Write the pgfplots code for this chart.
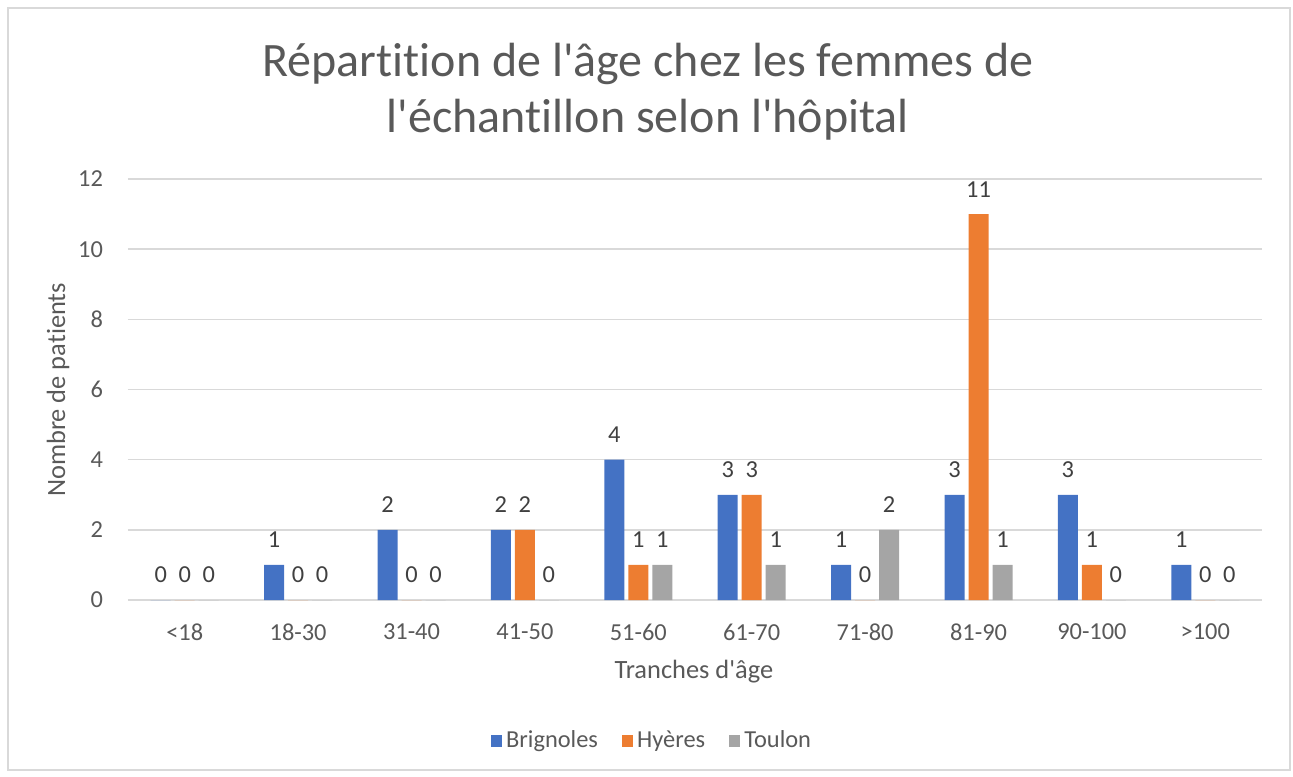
\documentclass[border=0pt]{standalone}
\usepackage{fontspec}
\setmainfont{Carlito}[Ligatures={NoCommon}]
\usepackage{pgfplots}
\pgfplotsset{compat=1.18}

\definecolor{cBrig}{HTML}{4472C4}
\definecolor{cHye}{HTML}{ED7D31}
\definecolor{cTou}{HTML}{A5A5A5}
\definecolor{txt}{HTML}{595959}
\definecolor{lbl}{HTML}{404040}
\definecolor{gridc}{HTML}{D9D9D9}

% tranche, Brignoles, Hyeres, Toulon
\pgfplotstableread{
x b h t
0 0 0 0
1 1 0 0
2 2 0 0
3 2 2 0
4 4 1 1
5 3 3 1
6 1 0 2
7 3 11 1
8 3 1 0
9 1 0 0
}\agedata

\newcommand{\q}{\textquotesingle}

\begin{document}
\begin{tikzpicture}
\useasboundingbox (-64pt,-88pt) rectangle (582.5pt,300pt);
\draw[gridc, line width=0.8pt] (-60pt,-85pt) rectangle (581pt,296pt);
\begin{axis}[
  at={(0,0)}, anchor=south west,
  scale only axis,
  width=567pt, height=210.5pt,
  ybar, bar width=10pt,
  xmin=-0.5, xmax=9.5, ymin=0, ymax=12,
  xtick=data,
  xticklabels={<18,18-30,31-40,41-50,51-60,61-70,71-80,81-90,90-100,>100},
  ytick={0,2,...,12},
  axis line style={draw=none},
  major tick length=0pt,
  ymajorgrids, major grid style={gridc, line width=0.8pt},
  tick label style={font=\fontsize{12.2}{14}\selectfont, text=txt},
  xticklabel style={yshift=-8.5pt},
  yticklabel style={xshift=-9pt},
  /pgf/number format/assume math mode=true,
  xlabel={Tranches d\q âge}, ylabel={Nombre de patients},
  every axis x label/.style={at={(axis description cs:0.499,-0.17)}, anchor=center,
    font=\fontsize{13.2}{16}\selectfont, text=txt},
  every axis y label/.style={at={(axis description cs:-0.0617,0.499)}, rotate=90, anchor=center,
    font=\fontsize{13.2}{16}\selectfont, text=txt},
  title={Répartition de l\q âge chez les femmes de\\l\q échantillon selon l\q hôpital},
  title style={at={(axis description cs:0.4586,1.178)}, anchor=center, align=center,
    font=\fontsize{24}{28}\selectfont, text=txt},
  nodes near coords,
  every node near coord/.append style={font=\fontsize{12.2}{14}\selectfont, text=lbl, yshift=5pt},
  legend columns=3,
  legend style={at={(0.463,-0.335)}, anchor=center, draw=none,
    font=\fontsize{12.2}{14}\selectfont, text=txt,
    nodes={text height=1.7ex, text depth=0.4ex},
    /tikz/every even column/.append style={column sep=10pt}},
  legend image code/.code={\fill[#1] (0pt,-2.8pt) rectangle (5.6pt,2.8pt);},
]
\addplot[fill=cBrig, draw=none, bar shift=-12pt] table[x=x, y=b] {\agedata};
\addlegendentry{Brignoles}
\addplot[fill=cHye, draw=none, bar shift=0pt] table[x=x, y=h] {\agedata};
\addlegendentry{Hyères}
\addplot[fill=cTou, draw=none, bar shift=12pt] table[x=x, y=t] {\agedata};
\addlegendentry{Toulon}
\end{axis}
\end{tikzpicture}
\end{document}
